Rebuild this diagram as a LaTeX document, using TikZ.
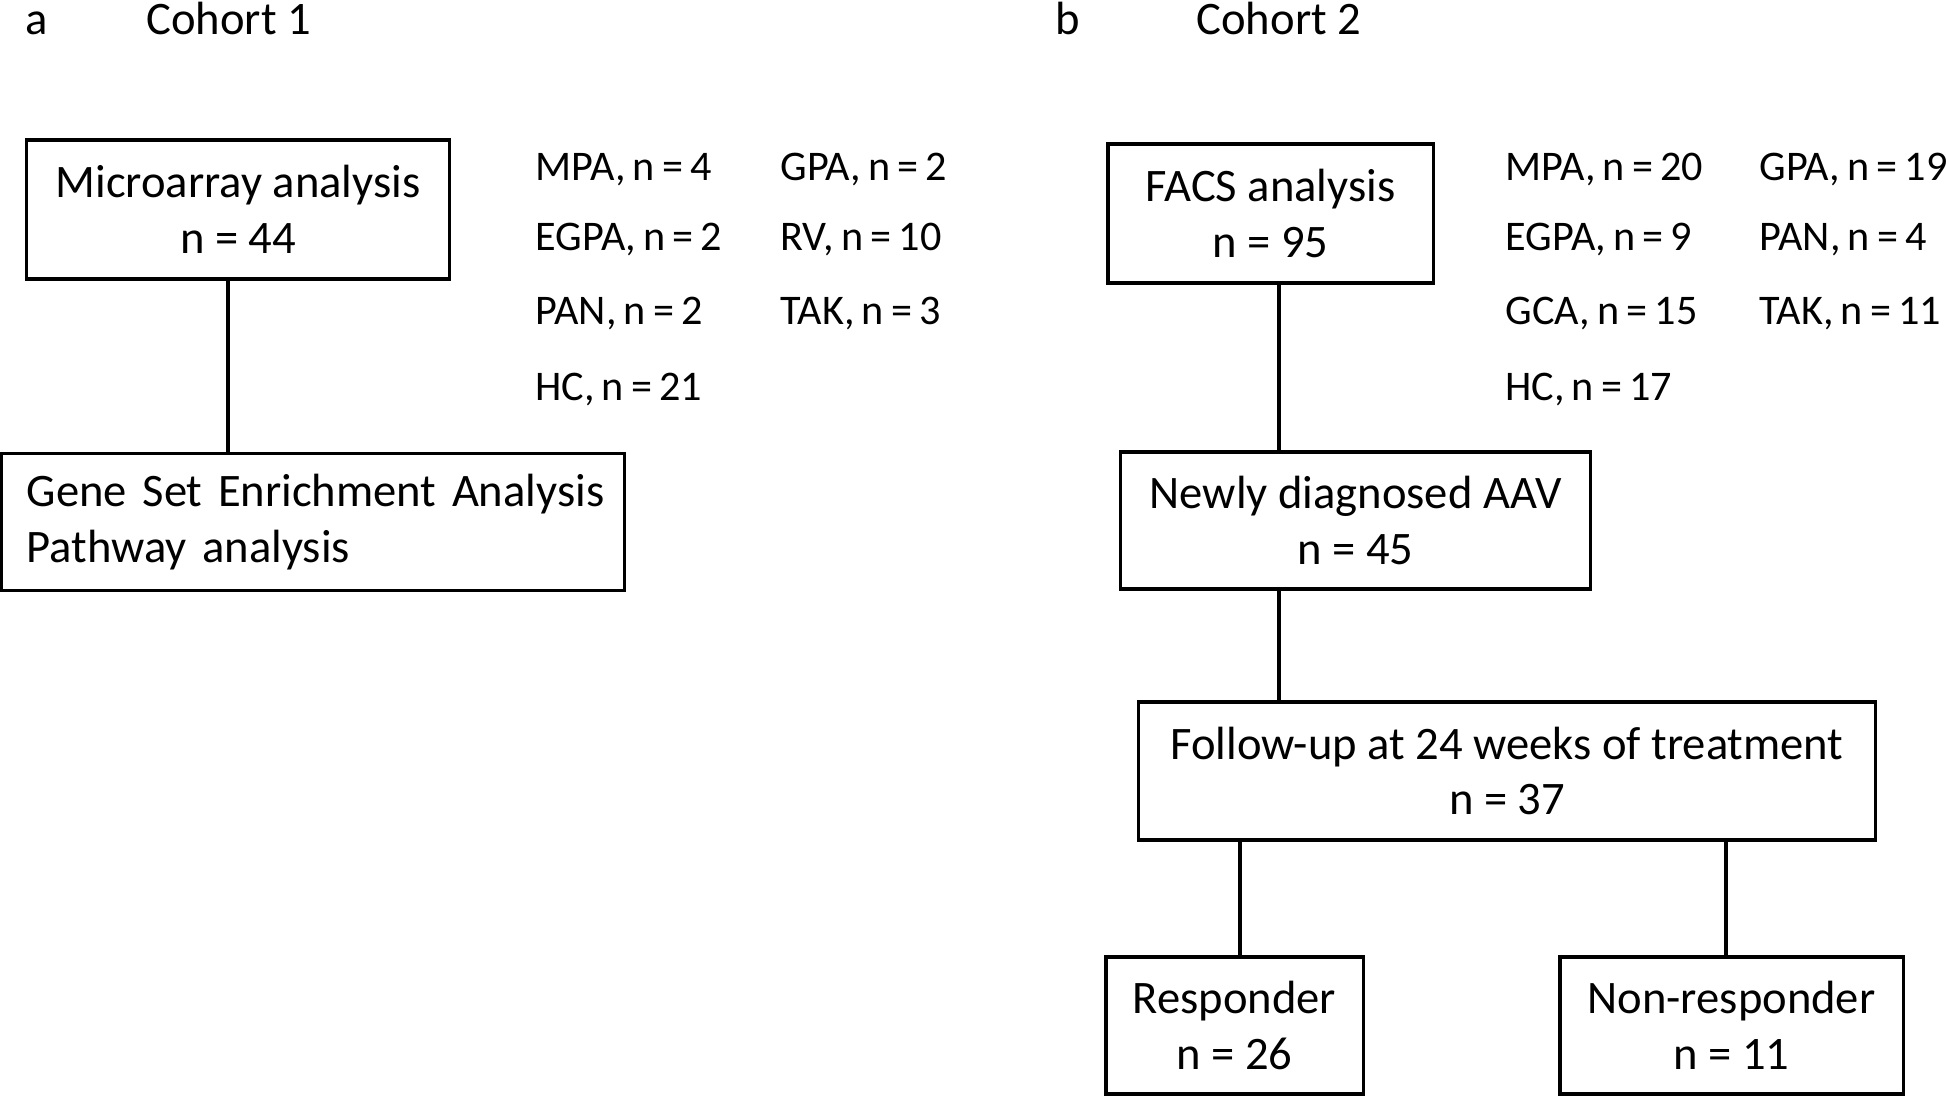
\documentclass[tikz,border=0pt]{standalone}
\usepackage{fontspec}
\setmainfont{Carlito}
\usepackage{tikz}
\frenchspacing
\newcommand{\listfont}{\fontsize{12}{14.4}\selectfont\spaceskip=0.17em\relax}

\begin{document}
\begin{tikzpicture}[x=0.01cm, y=-0.01cm, line width=0.9pt,
        every node/.style={font=\fontsize{13.25}{15.9}\selectfont},
        box/.style={draw, align=center, inner sep=0pt},
        lbl/.style={anchor=base west, inner sep=0pt},
        item/.style={lbl, font=\listfont}]
        \useasboundingbox (0,0) rectangle (1946,1097);
        % cohort 1
        \node[lbl] (tagA) at (24,35) {a};
        \node[lbl] (cohA) at (145,35) {Cohort 1};
        \node[box, minimum width=4.22cm, minimum height=1.39cm] (micro) at (238,209.5) {Microarray analysis\\n = 44};
        \node[box, align=left, text width=5.72cm, inner xsep=0.25cm, minimum height=1.37cm] (gsea) at (313,522) {\mbox{Gene Set Enrichment Analysis}\\Pathway analysis};
        \node[item] (mpaA) at (534,181) {MPA, n = 4};  \node[item] (gpaA) at (779,181) {GPA, n = 2};
        \node[item] (egpaA) at (534,251) {EGPA, n = 2}; \node[item] (rvA) at (779,251) {RV, n = 10};
        \node[item] (panA) at (534,324) {PAN, n = 2};  \node[item] (takA) at (779,324) {TAK, n = 3};
        \node[item] (hcA) at (534,400) {HC, n = 21};
        \coordinate (spA) at (228,0);
        \draw (micro.south -| spA) -- (gsea.north -| spA);
        % cohort 2
        \node[lbl] (tagB) at (1054,35) {b};
        \node[lbl] (cohB) at (1195,35) {Cohort 2};
        \node[box, minimum width=3.25cm, minimum height=1.39cm] (facs) at (1270.5,213.5) {FACS analysis\\n = 95};
        \node[box, minimum width=4.69cm, minimum height=1.37cm] (newly) at (1355.5,520.5) {Newly diagnosed AAV\\n = 45};
        \node[box, minimum width=7.36cm, minimum height=1.38cm] (follow) at (1507,771) {Follow-up at 24 weeks of treatment\\n = 37};
        \node[box, minimum width=2.57cm, minimum height=1.37cm] (resp) at (1234.5,1025.5) {Responder\\n = 26};
        \node[box, minimum width=3.43cm, minimum height=1.37cm] (nonresp) at (1731.5,1025.5) {Non-responder\\n = 11};
        \node[item] (mpaB) at (1504,181) {MPA, n = 20}; \node[item] (gpaB) at (1758,181) {GPA, n = 19};
        \node[item] (egpaB) at (1504,251) {EGPA, n = 9}; \node[item] (panB) at (1758,251) {PAN, n = 4};
        \node[item] (gcaB) at (1504,324) {GCA, n = 15}; \node[item] (takB) at (1758,324) {TAK, n = 11};
        \node[item] (hcB) at (1504,400) {HC, n = 17};
        \coordinate (spB) at (1279,0);
        \coordinate (spR) at (1240,0);
        \coordinate (spN) at (1726,0);
        \draw (facs.south -| spB) -- (newly.north -| spB);
        \draw (newly.south -| spB) -- (follow.north -| spB);
        \draw (resp.north -| spR) -- (follow.south -| spR);
        \draw (nonresp.north -| spN) -- (follow.south -| spN);
    \end{tikzpicture}
\end{document}
